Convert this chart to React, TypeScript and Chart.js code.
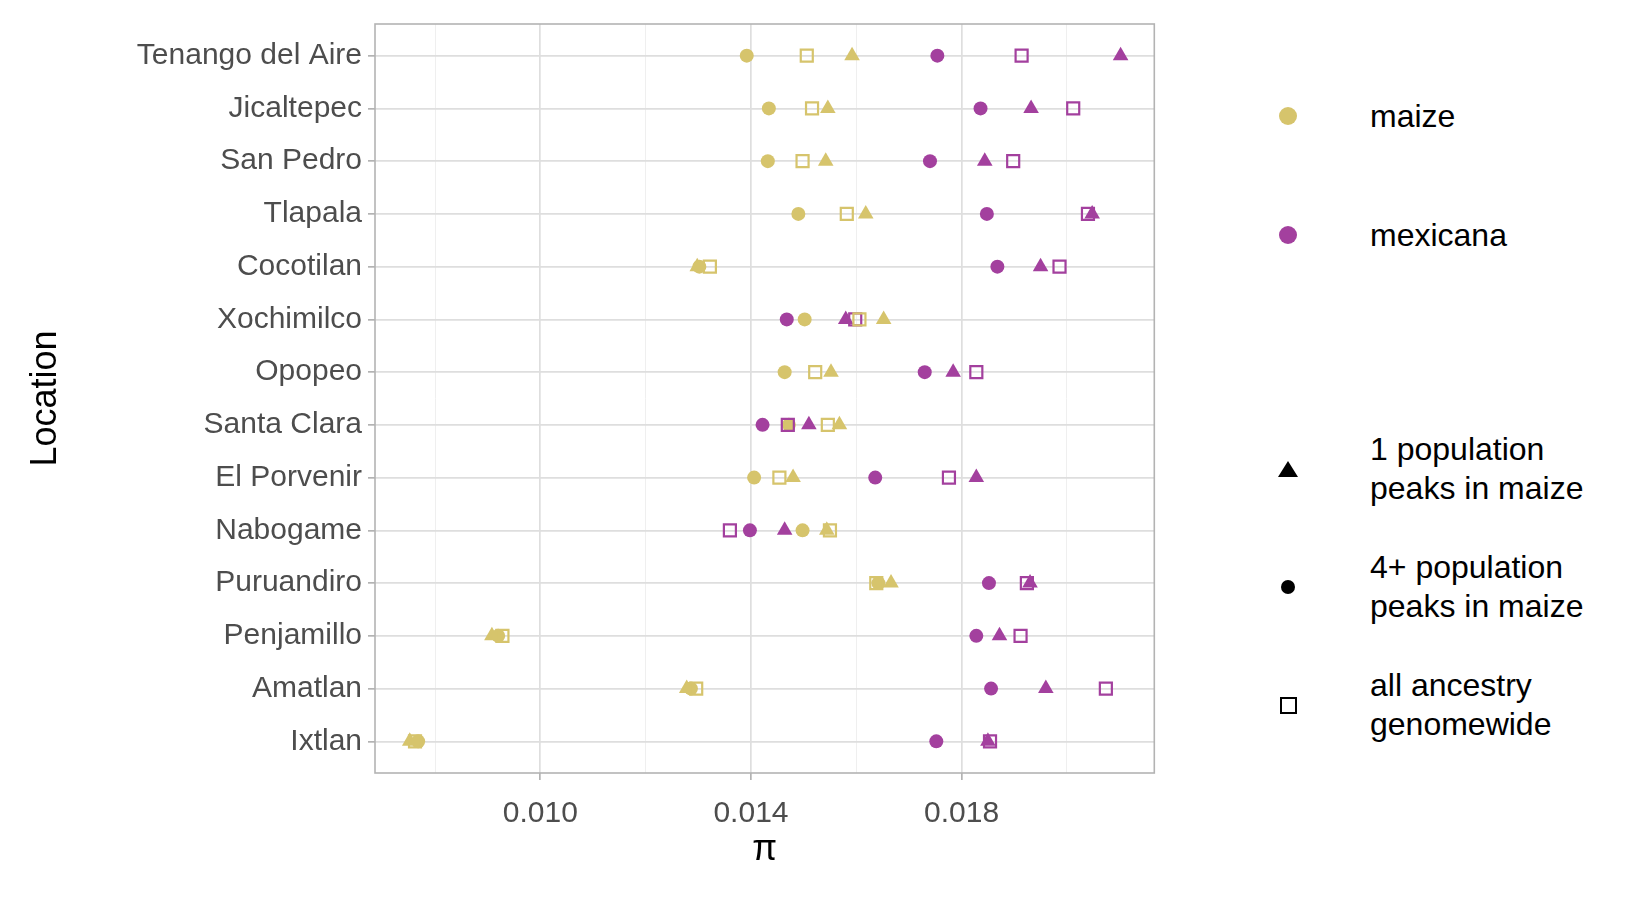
import React, { useEffect, useRef } from "react";
import Chart from "chart.js/auto";

// top to bottom
const locations = [
  "Tenango del Aire", "Jicaltepec", "San Pedro", "Tlapala", "Cocotilan", "Xochimilco", "Opopeo",
  "Santa Clara", "El Porvenir", "Nabogame", "Puruandiro", "Penjamillo", "Amatlan", "Ixtlan",
];

const maizeTri = [0.01592, 0.01546, 0.01542, 0.01618, 0.01298, 0.01652, 0.01552, 0.01568, 0.0148, 0.01544, 0.01666, 0.00908, 0.01278, 0.00752];
const maizeCircle = [0.01392, 0.01434, 0.01432, 0.0149, 0.01302, 0.01502, 0.01464, 0.01472, 0.01406, 0.01498, 0.01642, 0.0092, 0.01286, 0.00768];
const maizeSquare = [0.01506, 0.01516, 0.01498, 0.01582, 0.01322, 0.01606, 0.01522, 0.01546, 0.01454, 0.0155, 0.01638, 0.00928, 0.01296, 0.00762];
const mexTri = [0.02102, 0.01932, 0.01844, 0.02048, 0.0195, 0.0158, 0.01784, 0.0151, 0.01828, 0.01464, 0.0193, 0.01872, 0.0196, 0.0185];
const mexCircle = [0.01754, 0.01836, 0.0174, 0.01848, 0.01868, 0.01468, 0.0173, 0.01422, 0.01636, 0.01398, 0.01852, 0.01828, 0.01856, 0.01752];
const mexSquare = [0.01914, 0.02012, 0.01898, 0.0204, 0.01986, 0.01598, 0.01828, 0.0147, 0.01776, 0.0136, 0.01924, 0.01912, 0.02074, 0.01854];

const xTicks = [0.008, 0.01, 0.012, 0.014, 0.016, 0.018, 0.02];
const majorTicks = [0.01, 0.014, 0.018];

const MAIZE = "#d6c46c";
const MEX = "#a3409e";
const FONT = "'Liberation Sans', Arial, sans-serif";

const isMajor = (v: number) => majorTicks.some((m) => Math.abs(m - v) < 1e-9);
const toPts = (vals: number[]) => vals.map((x, i) => ({ x, y: locations.length - i }));

const border = {
  id: "panelBorder",
  afterDraw(chart: any) {
    const { ctx, chartArea: a } = chart;
    ctx.save();
    ctx.strokeStyle = "#b3b3b3";
    ctx.lineWidth = 1.6;
    ctx.strokeRect(a.left, a.top, a.right - a.left, a.bottom - a.top);
    ctx.restore();
  },
};

const App = () => {
  const ref = useRef<HTMLCanvasElement | null>(null);

  useEffect(() => {
    const ctx = ref.current?.getContext("2d");
    if (!ctx) return;
    const ds = (label: string, vals: number[], color: string, style: string, r: number, fill: boolean) => ({
      label,
      data: toPts(vals),
      pointStyle: style,
      pointRadius: r,
      backgroundColor: fill ? color : "rgba(0,0,0,0)",
      borderColor: color,
      borderWidth: fill ? 0 : 2.2,
      showLine: false,
    });
    const chart = new Chart(ctx, {
      type: "scatter",
      data: {
        datasets: [
          ds("maize all", maizeSquare, MAIZE, "rect", 8.5, false),
          ds("mex all", mexSquare, MEX, "rect", 8.5, false),
          ds("maize 4+", maizeCircle, MAIZE, "circle", 7, true),
          ds("mex 4+", mexCircle, MEX, "circle", 7, true),
          ds("maize 1", maizeTri, MAIZE, "triangle", 9, true),
          ds("mex 1", mexTri, MEX, "triangle", 9, true),
        ] as any,
      },
      options: {
        animation: false,
        responsive: false,
        layout: { padding: { top: 23, right: 7, bottom: 24, left: 20 } },
        plugins: { legend: { display: false }, tooltip: { enabled: false } },
        scales: {
          x: {
            type: "linear",
            min: 0.00686,
            max: 0.02166,
            afterBuildTicks: (s: any) => {
              s.ticks = xTicks.map((v) => ({ value: v }));
            },
            afterFit: (s: any) => {
              s.height = 103;
            },
            grid: {
              color: (c: any) => (isMajor(c.tick?.value) ? "#dedede" : "#efefef"),
              lineWidth: (c: any) => (isMajor(c.tick?.value) ? 1.7 : 1),
              tickColor: (c: any) => (isMajor(c.tick?.value) ? "#b3b3b3" : "rgba(0,0,0,0)"),
              tickLength: 7,
            },
            border: { display: false },
            ticks: {
              autoSkip: false,
              maxRotation: 0,
              padding: 16,
              color: "#4d4d4d",
              font: { family: FONT, size: 30 },
              callback: (v: any) => (isMajor(Number(v)) ? Number(v).toFixed(3) : ""),
            },
            title: { display: true, text: "π", color: "#000", font: { family: FONT, size: 36 } },
          },
          y: {
            type: "linear",
            min: 0.4,
            max: 14.6,
            afterBuildTicks: (s: any) => {
              s.ticks = locations.map((_, i) => ({ value: i + 1 }));
            },
            afterFit: (s: any) => {
              s.width = 355;
            },
            grid: { color: "#dedede", lineWidth: 1.7, tickColor: "#b3b3b3", tickLength: 7 },
            border: { display: false },
            ticks: {
              autoSkip: false,
              padding: 6,
              color: "#4d4d4d",
              font: { family: FONT, size: 30 },
              callback: (v: any) => locations[locations.length - Number(v)] ?? "",
            },
            title: { display: true, text: "Location", color: "#000", font: { family: FONT, size: 36 } },
          },
        },
      },
      plugins: [border],
    });
    return () => chart.destroy();
  }, []);

  const item = (center: number, sym: React.ReactNode, lines: string[]) => (
    <div style={{ position: "absolute", left: 1270, top: center - 40, height: 80, display: "flex", alignItems: "center" }}>
      <div style={{ width: 36, display: "flex", justifyContent: "center" }}>{sym}</div>
      <div style={{ marginLeft: 64, fontSize: 32, lineHeight: "39px", color: "#000" }}>
        {lines.map((l) => (
          <div key={l}>{l}</div>
        ))}
      </div>
    </div>
  );
  const dot = (c: string) => <div style={{ width: 18, height: 18, borderRadius: 9, background: c }} />;

  return (
    <div style={{ position: "absolute", left: 0, top: 0, width: 1650, height: 900, background: "#fff", fontFamily: FONT }}>
      <canvas ref={ref} width={1165} height={900} style={{ position: "absolute", left: 0, top: 0 }} />
      {item(116, dot(MAIZE), ["maize"])}
      {item(235, dot(MEX), ["mexicana"])}
      {item(469, <div style={{ width: 0, height: 0, borderLeft: "10px solid transparent", borderRight: "10px solid transparent", borderBottom: "16px solid #000" }} />, ["1 population", "peaks in maize"])}
      {item(587, <div style={{ width: 14, height: 14, borderRadius: 7, background: "#000" }} />, ["4+ population", "peaks in maize"])}
      {item(705, <div style={{ width: 13, height: 13, border: "2.2px solid #000" }} />, ["all ancestry", "genomewide"])}
    </div>
  );
};

export default App;
